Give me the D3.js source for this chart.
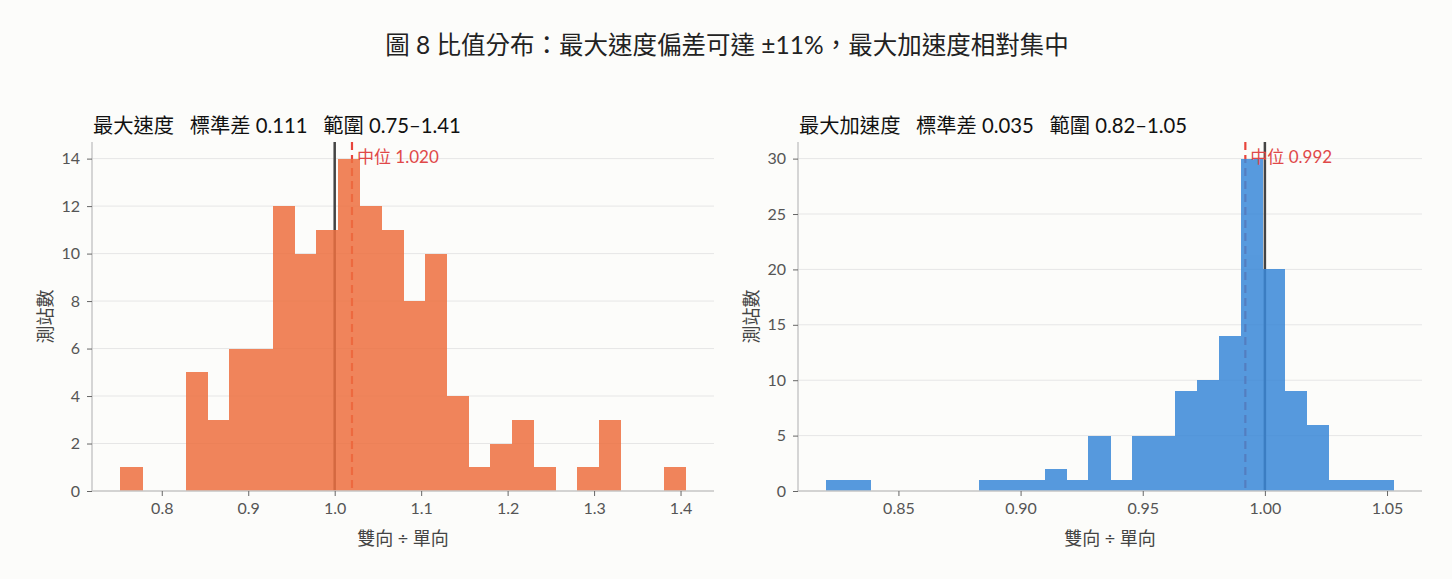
<!DOCTYPE html>
<html>
<head>
<meta charset="utf-8">
<script src="https://cdn.jsdelivr.net/npm/d3@7"></script>
<style>
  html, body { margin: 0; padding: 0; background: #fcfcfa; }
  svg { display: block; font-family: "Lato", "Noto Sans CJK TC", sans-serif; }
</style>
</head>
<body>
<svg id="chart" width="1452" height="579"></svg>
<script>
// histogram counts, 26 equal bins each
var speedCounts = [1, 0, 0, 5, 3, 6, 6, 12, 10, 11, 14, 12, 11, 8, 10, 4, 1, 2, 3, 1, 0, 1, 3, 0, 0, 1];
var accelCounts = [1, 1, 0, 0, 0, 0, 0, 1, 1, 1, 2, 1, 5, 1, 5, 5, 9, 10, 14, 30, 20, 9, 6, 1, 1, 1];
var speedExtent = [0.752, 1.406];
var accelExtent = [0.8205, 1.0527];
var medians = [1.020, 0.992];
var stdevs = [0.111, 0.035];
var rangeLabels = ["0.75–1.41", "0.82–1.05"];
var panelNames = ["最大速度", "最大加速度"];
var speedXTicks = [0.8, 0.9, 1.0, 1.1, 1.2, 1.3, 1.4];
var accelXTicks = [0.85, 0.90, 0.95, 1.00, 1.05];
var speedYTicks = [0, 2, 4, 6, 8, 10, 12, 14];
var accelYTicks = [0, 5, 10, 15, 20, 25, 30];

var svg = d3.select("#chart");

svg.append("text")
  .attr("x", 727).attr("y", 54)
  .attr("text-anchor", "middle")
  .attr("font-size", 24.5)
  .attr("fill", "#222")
  .text("圖 8 比值分布：最大速度偏差可達 ±11%，最大加速度相對集中");

var panels = [
  {left: 92, right: 714, counts: speedCounts, extent: speedExtent, xTicks: speedXTicks,
   yTicks: speedYTicks, fmt: ".1f", color: "#ee7040"},
  {left: 798, right: 1422, counts: accelCounts, extent: accelExtent, xTicks: accelXTicks,
   yTicks: accelYTicks, fmt: ".2f", color: "#3a88d8"}
];
var plotTop = 142, plotBottom = 491;

panels.forEach(function(p, k) {
  var n = p.counts.length;
  var span = p.extent[1] - p.extent[0];
  var w = span / n;
  var bins = p.counts.map(function(c, i) {
    return {x0: p.extent[0] + i * w, x1: p.extent[0] + (i + 1) * w, count: c};
  });

  var x = d3.scaleLinear()
    .domain([p.extent[0] - 0.05 * span, p.extent[1] + 0.05 * span])
    .range([p.left, p.right]);
  var y = d3.scaleLinear()
    .domain([0, d3.max(p.counts) * 1.05])
    .range([plotBottom, plotTop]);

  var g = svg.append("g");

  // grid
  g.selectAll(".grid").data(p.yTicks).enter().append("line")
    .attr("x1", p.left).attr("x2", p.right)
    .attr("y1", function(d) { return y(d); })
    .attr("y2", function(d) { return y(d); })
    .attr("stroke", "#e6e6e6").attr("stroke-width", 1);

  // reference line at 1 and median, under the bars
  g.append("line")
    .attr("x1", x(1)).attr("x2", x(1)).attr("y1", plotTop).attr("y2", plotBottom)
    .attr("stroke", "#444").attr("stroke-width", 2.5);
  g.append("line")
    .attr("x1", x(medians[k])).attr("x2", x(medians[k])).attr("y1", plotTop).attr("y2", plotBottom)
    .attr("stroke", "#e8453c").attr("stroke-width", 2.2)
    .attr("stroke-dasharray", "8,5");

  // bars share one translucent layer so neighbouring edges leave no seams
  g.append("g").attr("opacity", 0.85)
    .selectAll("rect").data(bins.filter(function(b) { return b.count > 0; })).enter().append("rect")
    .attr("x", function(d) { return x(d.x0); })
    .attr("width", function(d) { return x(d.x1) - x(d.x0) + 0.5; })
    .attr("y", function(d) { return y(d.count); })
    .attr("height", function(d) { return y(0) - y(d.count); })
    .attr("shape-rendering", "crispEdges")
    .attr("fill", p.color);

  // axes
  var xAxis = g.append("g")
    .attr("transform", "translate(0," + plotBottom + ")")
    .call(d3.axisBottom(x).tickValues(p.xTicks).tickFormat(d3.format(p.fmt)).tickSizeOuter(0).tickSize(5).tickPadding(7));
  var yAxis = g.append("g")
    .attr("transform", "translate(" + p.left + ",0)")
    .call(d3.axisLeft(y).tickValues(p.yTicks).tickFormat(d3.format("d")).tickSizeOuter(0).tickSize(5).tickPadding(7));
  [xAxis, yAxis].forEach(function(a) {
    a.select(".domain").attr("stroke", "#c8c8c8").attr("stroke-width", 1.5);
    a.selectAll(".tick line").attr("stroke", "#666");
    a.selectAll(".tick text").attr("fill", "#555").attr("font-size", 16)
      .attr("font-family", "Lato, 'Noto Sans CJK TC', sans-serif");
  });
  // spines cover the full plot area
  yAxis.select(".domain").attr("d", "M0," + plotTop + "V" + plotBottom);
  xAxis.select(".domain").attr("d", "M" + p.left + ",0H" + p.right);

  // median label
  g.append("text")
    .attr("x", x(medians[k]) + 5).attr("y", plotTop + 21)
    .attr("font-size", 17).attr("fill", "#e04848")
    .text("中位 " + d3.format(".3f")(medians[k]));

  // panel title
  g.append("text")
    .attr("x", p.left + 1).attr("y", 133)
    .attr("font-size", 20.3).attr("fill", "#111")
    .attr("xml:space", "preserve")
    .style("white-space", "pre")
    .text(panelNames[k] + "   標準差 " + d3.format(".3f")(stdevs[k]) + "   範圍 " + rangeLabels[k]);

  // axis labels
  g.append("text")
    .attr("x", (p.left + p.right) / 2).attr("y", 545)
    .attr("text-anchor", "middle").attr("font-size", 18).attr("fill", "#444")
    .text("雙向 ÷ 單向");
  g.append("text")
    .attr("transform", "translate(" + (p.left - 40) + "," + ((plotTop + plotBottom) / 2) + ") rotate(-90)")
    .attr("text-anchor", "middle").attr("font-size", 18).attr("fill", "#444")
    .text("測站數");
});
</script>
</body>
</html>
